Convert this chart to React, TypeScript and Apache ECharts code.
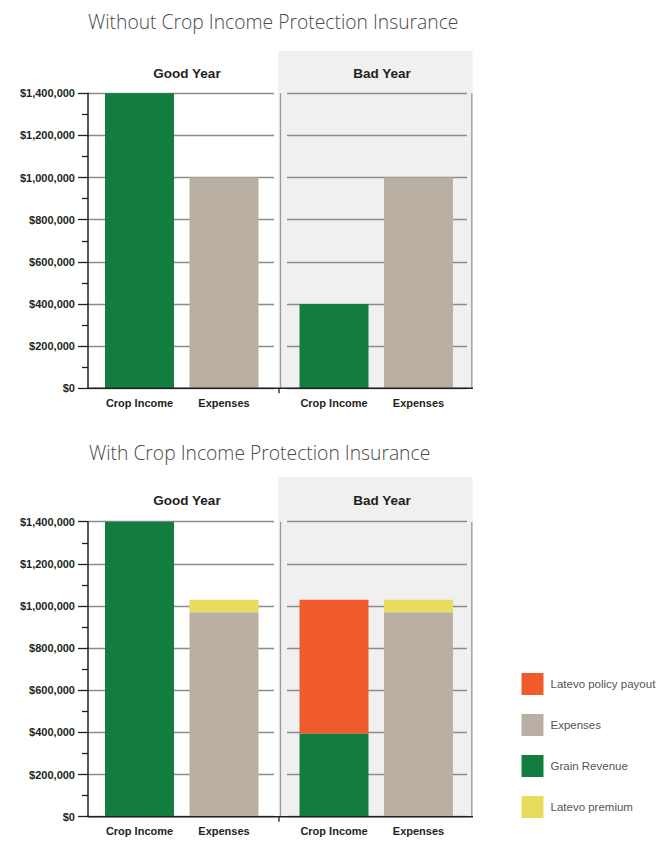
import React, { useEffect, useRef } from "react";
import * as echarts from "echarts";

// ---- data ----
const categories = ["Crop Income", "Expenses"];
const panels = ["Good Year", "Bad Year"];
const chartTitles = [
  "Without Crop Income Protection Insurance",
  "With Crop Income Protection Insurance",
];
const legendNames = ["Latevo policy payout", "Expenses", "Grain Revenue", "Latevo premium"];
// Without insurance: [Good Year, Bad Year]
const noInsGrain = [1400000, 400000];
const noInsExpenses = [1000000, 1000000];
// With insurance: [Good Year, Bad Year]
const insGrain = [1400000, 395000];
const insPayout = [null, 635000];
const insExpenses = [970000, 970000];
const insPremium = [60000, 60000];
const yMax = 1400000;
const yInterval = 200000;

const COLORS = {
  green: "#127d3f",
  tan: "#b9afa3",
  orange: "#f05b2b",
  yellow: "#e8dc5c",
};

const LEGEND_FONT = "'Liberation Sans Narrow', 'Liberation Sans', Arial, sans-serif";
const BOLD_FONT = "'Liberation Sans', Arial, sans-serif";

const fmtMoney = (v: number) => "$" + v.toLocaleString("en-US");

export default function App() {
  const ref = useRef<HTMLDivElement>(null);
  useEffect(() => {
    if (!ref.current) return;
    const chart = echarts.init(ref.current, null, { renderer: "svg" });

    const chartTops = [93.3, 521.7];
    const plotH = 295;
    const bgTops = [51, 477];
    const headerY = [73, 500];
    const titleY = [21, 452];
    const titleX = [88, 89];

    const frameLeft = [88, 287];
    const frameWidth = [186, 180];
    const barLeft = [97.25, 291.75];
    const barWidth = 169;

    const grid: any[] = [];
    const xAxis: any[] = [];
    const yAxis: any[] = [];
    const series: any[] = [];
    const graphics: any[] = [];

    for (let c = 0; c < 2; c++) {
      const top = chartTops[c];
      const bottom = top + plotH;
      // background of Bad Year panel
      graphics.push({
        type: "rect",
        z: -10,
        shape: { x: 278.3, y: bgTops[c], width: 194.4, height: bottom - bgTops[c] },
        style: { fill: "#f0f0f0" },
      });
      // vertical lines of Bad Year panel
      graphics.push({
        type: "line",
        z: 1,
        shape: { x1: 280.5, y1: top, x2: 280.5, y2: bottom },
        style: { stroke: "#9a9a9a", lineWidth: 1.3 },
      });
      graphics.push({
        type: "line",
        z: 1,
        shape: { x1: 471.8, y1: top, x2: 471.8, y2: bottom },
        style: { stroke: "#9a9a9a", lineWidth: 1.3 },
      });
      // baseline
      graphics.push({
        type: "line",
        z: 5,
        shape: { x1: 88, y1: bottom, x2: 473, y2: bottom },
        style: { stroke: "#231f20", lineWidth: 1.5 },
      });
      graphics.push({
        type: "line",
        z: 5,
        shape: { x1: 279, y1: bottom, x2: 279, y2: bottom + 5 },
        style: { stroke: "#231f20", lineWidth: 1.3 },
      });
      // titles
      graphics.push({
        type: "text",
        x: titleX[c],
        y: titleY[c],
        style: {
          text: chartTitles[c],
          fontSize: 19.3,
          fontWeight: 300,
          fontFamily: "'Open Sans', sans-serif",
          fill: "#4a4a4a",
          align: "left",
          verticalAlign: "middle",
        },
      });
      // panel headers
      const headerX = [187, 382];
      for (let p = 0; p < 2; p++) {
        graphics.push({
          type: "text",
          x: headerX[p],
          y: headerY[c],
          style: {
            text: panels[p],
            fontSize: 13.5,
            fontWeight: "bold",
            fontFamily: BOLD_FONT,
            fill: "#231f20",
            align: "center",
            verticalAlign: "middle",
          },
        });
      }

      for (let p = 0; p < 2; p++) {
        // frame grid (split lines & y axis)
        const fi = grid.length;
        grid.push({ left: frameLeft[p], top, width: frameWidth[p], height: plotH, containLabel: false });
        xAxis.push({ type: "value", gridIndex: fi, min: 0, max: 1, show: false });
        yAxis.push({
          type: "value",
          gridIndex: fi,
          min: 0,
          max: yMax,
          interval: yInterval,
          axisLine: { show: p === 0, lineStyle: { color: "#231f20", width: 1.5 } },
          axisTick: { show: p === 0, length: 10, lineStyle: { color: "#231f20", width: 1.3 } },
          minorTick: { show: p === 0, splitNumber: 2, length: 6, lineStyle: { color: "#231f20", width: 1.3 } },
          axisLabel: {
            show: p === 0,
            margin: 13,
            formatter: (v: number) => fmtMoney(v),
            fontSize: 11,
            fontWeight: "bold",
            fontFamily: BOLD_FONT,
            color: "#231f20",
          },
          splitLine: { show: true, lineStyle: { color: "#8c8c8c", width: 1.3 } },
        });
        // bar grid
        const bi = grid.length;
        grid.push({ left: barLeft[p], top, width: barWidth, height: plotH, containLabel: false });
        xAxis.push({
          type: "category",
          gridIndex: bi,
          data: categories,
          axisLine: { show: false },
          axisTick: { show: false },
          axisLabel: {
            interval: 0,
            margin: 9,
            fontSize: 11,
            fontWeight: "bold",
            fontFamily: BOLD_FONT,
            color: "#231f20",
          },
        });
        yAxis.push({ type: "value", gridIndex: bi, min: 0, max: yMax, show: false, splitLine: { show: false } });

        const common = {
          type: "bar",
          xAxisIndex: bi,
          yAxisIndex: bi,
          stack: "s" + c + p,
          barWidth: 69,
          z: 3,
        };
        if (c === 0) {
          series.push({ ...common, name: "Grain Revenue", color: COLORS.green, data: [noInsGrain[p], null] });
          series.push({ ...common, name: "Expenses", color: COLORS.tan, data: [null, noInsExpenses[p]] });
        } else {
          series.push({ ...common, name: "Grain Revenue", color: COLORS.green, data: [insGrain[p], null] });
          series.push({ ...common, name: "Latevo policy payout", color: COLORS.orange, data: [insPayout[p], null] });
          series.push({ ...common, name: "Expenses", color: COLORS.tan, data: [null, insExpenses[p]] });
          series.push({ ...common, name: "Latevo premium", color: COLORS.yellow, data: [null, insPremium[p]] });
        }
      }
    }

    chart.setOption({
      animation: false,
      backgroundColor: "#ffffff",
      grid,
      xAxis,
      yAxis,
      series,
      legend: {
        data: legendNames,
        orient: "vertical",
        left: 521.5,
        top: 673,
        padding: 0,
        itemWidth: 22,
        itemHeight: 22,
        itemGap: 19,
        icon: "rect",
        selectedMode: false,
        textStyle: {
          fontSize: 11.5,
          fontFamily: LEGEND_FONT,
          color: "#555555",
          padding: [0, 0, 0, 2],
        },
      },
      graphic: { elements: graphics },
    });

    return () => chart.dispose();
  }, []);

  return (
    <div
      ref={ref}
      style={{ position: "fixed", left: 0, top: 0, width: 656, height: 841 }}
    />
  );
}
